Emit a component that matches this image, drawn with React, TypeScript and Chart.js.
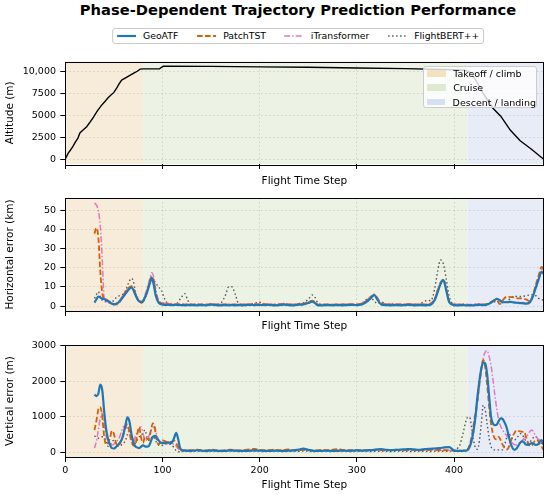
import React, { useEffect, useRef } from "react";
import { Chart, registerables } from "chart.js";

Chart.register(...registerables);

const FONT = "'DejaVu Sans', 'Liberation Sans', sans-serif";

const TITLE = "Phase-Dependent Trajectory Prediction Performance";
const X_TITLE = "Flight Time Step";
const X_MIN = 0;
const X_MAX = 492;
const X_TICKS = [0, 100, 200, 300, 400];

const PHASE_LABELS = ["Takeoff / climb", "Cruise", "Descent / landing"];
const PHASE_START = [0, 80, 414];
const PHASE_END = [80, 414, 492];
const PHASE_BG = ["rgba(247,236,218,1)", "rgba(236,242,228,1)", "rgba(232,236,246,1)"];
const PHASE_SWATCH = ["rgb(243,225,192)", "rgb(221,234,209)", "rgb(215,223,242)"];

const SERIES_NAMES = ["GeoATF", "PatchTST", "iTransformer", "FlightBERT++"];
const SERIES_COLORS = ["#1f77b4", "#d95f02", "#e377c2", "#555555"];
const SERIES_WIDTHS = [2.2, 1.8, 1.5, 1.4];
const SERIES_DASH: number[][] = [[], [5.5, 2.5], [6, 2, 1.5, 2], [1.5, 2.5]];

// Altitude profile
const ALT_X = [0, 3, 5, 8, 10, 13, 15, 18, 22, 26, 29, 33, 37, 41, 44, 47, 50, 53, 55, 58, 62, 66, 70, 74, 77, 80, 90, 97, 99, 101, 150, 200, 250, 300, 350, 400, 410, 415, 420, 425, 430, 435, 440, 448, 458, 468, 479, 489, 492];
const ALT_M = [50, 700, 1000, 1500, 1900, 2400, 3000, 3300, 3700, 4300, 4800, 5500, 6100, 6600, 7000, 7300, 7600, 8100, 8500, 9000, 9250, 9500, 9750, 10000, 10250, 10270, 10270, 10280, 10450, 10580, 10560, 10500, 10450, 10380, 10300, 10180, 10120, 10000, 9400, 8500, 7500, 6600, 5800, 4900, 3300, 2100, 1200, 300, 30];
const ALT_RANGE = [-530, 11110];
const ALT_TICKS = [0, 2500, 5000, 7500, 10000];

// Horizontal error (km)
const H_X = [
  30, 32, 34, 36, 38, 40, 42, 44, 47, 50,
  53, 56, 59, 62, 65, 68, 70, 72, 75, 78,
  81, 84, 87, 89, 91, 93, 96, 99, 102, 105,
  110, 115, 120, 123, 126, 130, 135, 140, 145, 150,
  155, 160, 165, 168, 171, 175, 178, 182, 186, 190,
  195, 200, 205, 210, 215, 220, 225, 230, 235, 240,
  245, 250, 254, 257, 260, 265, 270, 275, 280, 285,
  290, 295, 300, 305, 310, 314, 318, 321, 325, 330,
  335, 340, 345, 350, 355, 360, 365, 370, 373, 376,
  380, 383, 386, 389, 392, 395, 400, 405, 410, 415,
  420, 425, 430, 435, 440, 444, 447, 450, 454, 458,
  462, 466, 470, 474, 478, 481, 484, 487, 490, 492,
];
const H_GEOATF = [
  1.8, 3.5, 5, 4.5, 3.8, 3.8, 3, 2.5, 1.5, 0.9,
  1.3, 2.5, 4.5, 6.5, 8.5, 9.8, 8.5, 6, 3, 2,
  3.5, 7, 12, 14.8, 11, 5.5, 1.8, 0.9, 0.6, 0.6,
  0.5, 0.6, 0.5, 0.4, 0.5, 0.5, 0.4, 0.5, 0.4, 0.7,
  0.5, 0.4, 0.5, 0.4, 0.5, 0.4, 0.5, 0.4, 0.5, 0.6,
  0.5, 0.6, 0.5, 0.6, 0.4, 0.5, 0.7, 0.5, 0.4, 0.7,
  0.9, 1.6, 2.3, 1.5, 0.4, 0.4, 0.5, 0.4, 0.5, 0.4,
  0.5, 0.6, 0.5, 0.8, 2.2, 4, 5.8, 3.5, 0.8, 0.5,
  0.4, 0.5, 0.4, 0.5, 0.6, 0.4, 0.5, 0.4, 0.5, 0.7,
  3, 7, 11.5, 13.6, 8, 2, 0.5, 0.4, 0.5, 0.3,
  0.4, 0.6, 0.5, 0.9, 2.5, 3.8, 3, 2, 2, 2.2,
  1.8, 1.7, 1.5, 1.2, 2, 5, 9.5, 14, 18, 17,
];
const H_PATCHTST = [
  38, 41, 36, 18, 7, 3.5, 3.5, 2.8, 2, 1,
  0.9, 2.2, 5, 7.5, 9.5, 10.5, 9, 6.5, 3.2, 1.5,
  3, 7.5, 13, 15.5, 13, 7, 2.5, 1.5, 1.2, 1,
  1, 0.8, 0.9, 0.8, 0.7, 0.8, 0.9, 0.7, 0.8, 1,
  0.8, 0.7, 0.9, 0.8, 0.7, 0.8, 0.7, 0.9, 0.8, 0.9,
  1, 0.8, 1, 0.8, 0.7, 0.9, 1, 0.8, 0.7, 1,
  1.2, 2, 2.8, 2, 0.8, 0.7, 0.8, 0.7, 0.9, 0.8,
  0.8, 1, 0.9, 1.2, 2.8, 4.6, 6, 4, 1.3, 0.9,
  0.8, 0.9, 0.8, 0.9, 1, 0.8, 0.9, 0.8, 0.9, 1.2,
  3.5, 8, 12, 14, 9, 2.5, 0.8, 0.7, 0.8, 0.6,
  0.7, 0.9, 0.8, 1.2, 2.5, 3, 1, 3, 4.9, 4.7,
  4.5, 4, 4, 3.5, 2.5, 5.5, 11, 16, 20.5, 19.5,
];
const H_ITRANSFORMER = [
  54, 53, 50, 42, 25, 4, 2, 1.8, 1.5, 1.2,
  1.5, 3, 5.5, 7.5, 9.5, 10, 9, 7, 3.5, 2,
  4.5, 9, 14.5, 17.5, 15, 9, 3, 1.8, 1.5, 1.5,
  1.3, 1.1, 1, 1.1, 1, 0.9, 1, 1.1, 0.9, 1,
  1.1, 0.9, 1, 1.1, 1, 0.9, 1, 1.1, 1, 1,
  1.1, 1, 1.1, 0.9, 1, 1.1, 1.2, 1, 1, 1.2,
  1.4, 2.2, 2.6, 1.8, 1, 0.9, 1, 0.9, 1, 1,
  1.1, 1, 1, 1.5, 3, 5, 6.2, 4.5, 1.5, 1.1,
  1.4, 1.2, 1, 1.1, 1.2, 1, 1.1, 1, 1.1, 1.5,
  4, 8.5, 12.5, 13.8, 9, 2.8, 1, 0.9, 1, 0.8,
  0.9, 1.1, 1, 1.3, 2.8, 4, 3.3, 2.5, 2.3, 2.2,
  2, 1.9, 1.8, 1.6, 2.2, 5, 10, 14.5, 19, 18.5,
];
const H_FLIGHTBERT = [
  4, 6, 7.5, 5, 3, 2.5, 2.5, 2.2, 2, 3,
  4.8, 5.5, 6, 8, 12, 14.5, 13, 8, 3, 2.5,
  3, 8, 13, 14.5, 13.5, 12, 10, 8, 4, 1.5,
  0.8, 1.5, 5, 6.5, 3, 0.8, 0.6, 0.8, 0.7, 0.9,
  0.8, 1.5, 6, 10, 10.2, 6, 1.5, 0.8, 0.7, 1,
  1.5, 2, 1.2, 0.8, 0.6, 0.8, 1.3, 0.8, 0.8, 1.2,
  1.8, 3.5, 5.8, 4.5, 1.5, 0.8, 0.7, 0.8, 0.6, 0.8,
  0.7, 0.6, 0.8, 1.5, 3.5, 4.5, 2.5, 1.4, 2.2, 1,
  0.7, 0.8, 0.6, 0.7, 0.8, 0.7, 1.2, 2.6, 3, 2.8,
  9, 18, 24.2, 22, 14, 5, 1, 0.8, 0.9, 0.7,
  0.8, 0.9, 0.8, 1.2, 2, 2.5, 2, 1.8, 2.3, 4,
  5.2, 5, 5, 5.5, 5.8, 6, 5.5, 4, 3.5, 3,
];
const H_RANGE = [-2.6, 56.7];
const H_TICKS = [0, 10, 20, 30, 40, 50];

// Vertical error (m)
const V_X = [
  30, 32, 34, 36, 38, 40, 42, 44, 46, 48,
  50, 52, 54, 56, 58, 60, 62, 64, 66, 68,
  70, 72, 74, 76, 78, 80, 82, 84, 86, 88,
  90, 92, 94, 96, 98, 100, 103, 106, 109, 112,
  114, 116, 118, 120, 125, 130, 135, 140, 145, 150,
  155, 160, 165, 170, 175, 180, 185, 190, 195, 200,
  205, 210, 215, 220, 225, 230, 235, 240, 245, 250,
  255, 260, 265, 270, 275, 280, 285, 290, 295, 300,
  305, 310, 315, 320, 325, 330, 335, 340, 345, 350,
  355, 360, 365, 370, 375, 380, 385, 390, 395, 400,
  402, 404, 406, 408, 410, 412, 414, 416, 418, 420,
  422, 424, 426, 428, 430, 432, 434, 436, 438, 440,
  442, 444, 446, 448, 450, 452, 454, 456, 458, 460,
  462, 464, 466, 468, 470, 472, 474, 476, 478, 480,
  482, 484, 486, 488, 490, 492,
];
const V_GEOATF = [
  1620, 1580, 1650, 1900, 1750, 1150, 650, 360, 200, 110,
  100, 140, 190, 260, 350, 520, 780, 980, 860, 520,
  280, 160, 130, 110, 150, 190, 160, 150, 170, 300,
  430, 460, 390, 330, 270, 250, 260, 270, 250, 400,
  540, 380, 120, 60, 40, 35, 50, 40, 30, 45,
  40, 30, 35, 45, 40, 35, 30, 40, 45, 40,
  35, 30, 40, 35, 30, 40, 45, 70, 95, 60,
  35, 30, 35, 40, 30, 35, 40, 35, 40, 45,
  40, 50, 55, 70, 80, 65, 55, 60, 70, 75,
  85, 70, 65, 80, 90, 100, 110, 130, 140, 40,
  35, 35, 30, 35, 40, 40, 60, 150, 320, 600,
  1000, 1550, 2000, 2350, 2530, 2500, 2200, 1600, 1000, 800,
  760, 780, 880, 950, 930, 830, 700, 480, 260, 120,
  60, 90, 170, 260, 300, 270, 210, 200, 230, 250,
  230, 200, 210, 280, 340, 200,
];
const V_PATCHTST = [
  620, 880, 1200, 1270, 1000, 440, 210, 260, 400, 600,
  520, 270, 200, 230, 350, 520, 700, 780, 560, 330,
  180, 200, 500, 700, 400, 260, 430, 380, 350, 600,
  810, 680, 350, 210, 280, 330, 300, 280, 290, 320,
  250, 150, 60, 40, 60, 50, 70, 55, 45, 70,
  55, 40, 55, 65, 50, 45, 60, 75, 90, 60,
  50, 55, 65, 50, 60, 75, 55, 50, 65, 55,
  45, 50, 60, 50, 65, 85, 60, 55, 50, 60,
  55, 45, 60, 65, 55, 50, 60, 65, 55, 60,
  55, 65, 50, 60, 65, 55, 60, 50, 55, 45,
  40, 45, 40, 35, 40, 50, 80, 200, 420, 750,
  1100, 1450, 1900, 2350, 2600, 2400, 1900, 1300, 800, 520,
  380, 360, 430, 330, 200, 110, 70, 120, 280, 430,
  530, 610, 600, 580, 570, 580, 430, 270, 170, 180,
  270, 340, 330, 240, 160, 60,
];
const V_ITRANSFORMER = [
  110, 300, 620, 950, 1100, 800, 450, 300, 230, 200,
  220, 290, 340, 430, 600, 720, 690, 670, 520, 280,
  260, 430, 550, 650, 710, 520, 350, 340, 450, 600,
  680, 710, 500, 340, 280, 250, 230, 240, 230, 220,
  170, 100, 50, 35, 40, 35, 45, 40, 35, 45,
  40, 35, 40, 50, 40, 35, 40, 50, 55, 40,
  35, 40, 45, 35, 40, 50, 40, 45, 60, 45,
  35, 40, 45, 35, 40, 55, 40, 35, 40, 45,
  40, 35, 45, 50, 45, 40, 45, 50, 40, 45,
  40, 50, 40, 45, 50, 40, 45, 40, 45, 35,
  35, 40, 35, 30, 35, 40, 60, 130, 280, 550,
  950, 1370, 1850, 2300, 2650, 2820, 2860, 2700, 2450, 2050,
  1600, 1200, 900, 720, 620, 540, 470, 380, 300, 250,
  210, 200, 230, 280, 330, 380, 430, 490, 580, 620,
  560, 440, 380, 340, 330, 300,
];
const V_FLIGHTBERT = [
  460, 420, 390, 400, 430, 420, 280, 160, 200, 300,
  330, 240, 160, 170, 210, 250, 330, 500, 620, 480,
  300, 250, 330, 430, 450, 550, 620, 420, 330, 380,
  440, 380, 260, 200, 180, 190, 220, 230, 200, 120,
  40, 10, 10, 15, 20, 15, 25, 20, 15, 20,
  25, 15, 20, 25, 20, 15, 20, 25, 30, 20,
  15, 20, 25, 20, 15, 20, 25, 20, 30, 25,
  15, 20, 25, 20, 15, 20, 25, 20, 15, 20,
  25, 20, 15, 20, 25, 20, 15, 20, 25, 20,
  15, 20, 25, 20, 15, 20, 25, 20, 25, 30,
  60, 120, 200, 400, 620, 850, 980, 980, 700, 330,
  120, 80, 300, 800, 1320, 1200, 800, 400, 160, 80,
  60, 60, 60, 60, 70, 200, 400, 530, 460, 380,
  340, 380, 450, 520, 500, 400, 300, 250, 280, 350,
  420, 440, 380, 300, 250, 240,
];
const V_RANGE = [-140, 3020];
const V_TICKS = [0, 1000, 2000, 3000];

const GRID_COLOR = "rgba(0,0,0,0.16)";

const phasePlugin = {
  id: "phases",
  beforeDraw(chart: any) {
    const { ctx, chartArea, scales } = chart;
    const x = scales.x;
    ctx.save();
    for (let i = 0; i < PHASE_START.length; i++) {
      const x0 = Math.max(chartArea.left, x.getPixelForValue(PHASE_START[i]));
      const x1 = Math.min(chartArea.right, x.getPixelForValue(PHASE_END[i]));
      ctx.fillStyle = PHASE_BG[i];
      ctx.fillRect(x0, chartArea.top, x1 - x0, chartArea.bottom - chartArea.top);
    }
    ctx.restore();
  },
};

const framePlugin = {
  id: "frame",
  afterDatasetsDraw(chart: any) {
    const { ctx, chartArea } = chart;
    ctx.save();
    ctx.strokeStyle = "#000";
    ctx.lineWidth = 1;
    ctx.strokeRect(
      Math.round(chartArea.left) + 0.5,
      Math.round(chartArea.top) + 0.5,
      Math.round(chartArea.right - chartArea.left),
      Math.round(chartArea.bottom - chartArea.top)
    );
    ctx.restore();
  },
};

function fmtAlt(v: number) {
  if (Math.abs(v) >= 10000) return v.toLocaleString("en-US");
  return String(v);
}

function makeOptions(o: {
  yRange: number[];
  yTicks: number[];
  yTitle: string;
  yFmt?: (v: number) => string;
  padTop: number;
  xAxisH: number;
  xTitlePad: number;
  showXLabels: boolean;
}) {
  return {
    responsive: false,
    maintainAspectRatio: false,
    animation: false as const,
    events: [],
    layout: { padding: { top: o.padTop, right: 6.5, bottom: 0, left: 0 } },
    plugins: { legend: { display: false }, tooltip: { enabled: false }, title: { display: false } },
    elements: { point: { radius: 0 } },
    scales: {
      x: {
        type: "linear" as const,
        min: X_MIN,
        max: X_MAX,
        afterBuildTicks: (s: any) => {
          s.ticks = X_TICKS.map((v) => ({ value: v }));
        },
        ticks: {
          autoSkip: false,
          maxRotation: 0,
          padding: 3.2,
          color: "#000",
          font: { family: FONT, size: 9.5 },
          callback: (v: any) => (o.showXLabels ? String(v) : ""),
        },
        grid: { color: GRID_COLOR, lineWidth: 0.8, tickColor: "#000", tickLength: 5, tickWidth: 1 },
        border: { display: false, dash: [1.5, 2.5] },
        title: {
          display: true,
          text: X_TITLE,
          color: "#000",
          font: { family: FONT, size: 10.5 },
          padding: { top: 0, bottom: o.xTitlePad },
        },
        afterFit: (s: any) => {
          s.height = o.xAxisH;
        },
      },
      y: {
        type: "linear" as const,
        min: o.yRange[0],
        max: o.yRange[1],
        afterBuildTicks: (s: any) => {
          s.ticks = o.yTicks.map((v) => ({ value: v }));
        },
        ticks: {
          autoSkip: false,
          padding: 4.3,
          color: "#000",
          font: { family: FONT, size: 9.5 },
          callback: (v: any) => (o.yFmt ? o.yFmt(Number(v)) : String(v)),
        },
        grid: { color: GRID_COLOR, lineWidth: 0.8, tickColor: "#000", tickLength: 5, tickWidth: 1 },
        border: { display: false, dash: [1.5, 2.5] },
        title: {
          display: true,
          text: o.yTitle,
          color: "#000",
          font: { family: FONT, size: 10.5 },
          padding: { top: 3.7, bottom: 0 },
        },
        afterFit: (s: any) => {
          s.width = 65.3;
        },
      },
    },
  };
}

function errDatasets(xs: number[], series: number[][]) {
  return series.map((ys, k) => ({
    label: SERIES_NAMES[k],
    data: xs.map((x, i) => ({ x, y: ys[i] })),
    borderColor: SERIES_COLORS[k],
    backgroundColor: SERIES_COLORS[k],
    borderWidth: SERIES_WIDTHS[k],
    borderDash: SERIES_DASH[k],
    pointRadius: 0,
    fill: false,
    cubicInterpolationMode: "monotone" as const,
    borderCapStyle: "butt" as const,
  }));
}

function LegendHandle({ color, width, dash }: { color: string; width: number; dash: number[] }) {
  return (
    <svg width={19} height={10} style={{ display: "block" }}>
      <line x1={0} y1={5} x2={19} y2={5} stroke={color} strokeWidth={width} strokeDasharray={dash.length ? dash.join(",") : undefined} />
    </svg>
  );
}

export default function App() {
  const r1 = useRef<HTMLCanvasElement>(null);
  const r2 = useRef<HTMLCanvasElement>(null);
  const r3 = useRef<HTMLCanvasElement>(null);

  useEffect(() => {
    Chart.defaults.font.family = FONT;
    const c1 = new Chart(r1.current as HTMLCanvasElement, {
      type: "line",
      data: {
        datasets: [
          {
            label: "Altitude",
            data: ALT_X.map((x, i) => ({ x, y: ALT_M[i] })),
            borderColor: "#000",
            borderWidth: 1.4,
            pointRadius: 0,
            fill: false,
            tension: 0,
          },
        ],
      },
      options: makeOptions({
        yRange: ALT_RANGE,
        yTicks: ALT_TICKS,
        yTitle: "Altitude (m)",
        yFmt: fmtAlt,
        padTop: 11.5,
        xAxisH: 26,
        xTitlePad: 2.7,
        showXLabels: false,
      }) as any,
      plugins: [phasePlugin, framePlugin],
    });
    const c2 = new Chart(r2.current as HTMLCanvasElement, {
      type: "line",
      data: { datasets: errDatasets(H_X, [H_GEOATF, H_PATCHTST, H_ITRANSFORMER, H_FLIGHTBERT]) },
      options: makeOptions({
        yRange: H_RANGE,
        yTicks: H_TICKS,
        yTitle: "Horizontal error (km)",
        padTop: 13,
        xAxisH: 24,
        xTitlePad: 2.7,
        showXLabels: false,
      }) as any,
      plugins: [phasePlugin, framePlugin],
    });
    const c3 = new Chart(r3.current as HTMLCanvasElement, {
      type: "line",
      data: { datasets: errDatasets(V_X, [V_GEOATF, V_PATCHTST, V_ITRANSFORMER, V_FLIGHTBERT]) },
      options: makeOptions({
        yRange: V_RANGE,
        yTicks: V_TICKS,
        yTitle: "Vertical error (m)",
        padTop: 9.5,
        xAxisH: 38,
        xTitlePad: 3.2,
        showXLabels: true,
      }) as any,
      plugins: [phasePlugin, framePlugin],
    });
    return () => {
      c1.destroy();
      c2.destroy();
      c3.destroy();
    };
  }, []);

  const canvasStyle = (top: number, h: number): React.CSSProperties => ({
    position: "absolute",
    left: 0,
    top,
    width: 550,
    height: h,
  });

  return (
    <div
      style={{
        position: "absolute",
        left: 0,
        top: 0,
        width: 550,
        height: 495,
        background: "#fff",
        overflow: "hidden",
        fontFamily: FONT,
        color: "#000",
      }}
    >
      <div
        style={{
          position: "absolute",
          left: 0,
          top: 0,
          width: 596,
          height: 20,
          lineHeight: "20px",
          textAlign: "center",
          fontWeight: "bold",
          fontSize: 14.7,
          whiteSpace: "nowrap",
        }}
      >
        {TITLE}
      </div>

      <div
        style={{
          position: "absolute",
          left: 298,
          top: 27.5,
          height: 16,
          transform: "translateX(-50%)",
          boxSizing: "border-box",
          border: "1px solid #cccccc",
          borderRadius: 3,
          background: "rgba(255,255,255,0.8)",
          display: "flex",
          alignItems: "center",
          padding: "0 3.5px",
          fontSize: 9.3,
          whiteSpace: "nowrap",
        }}
      >
        {SERIES_NAMES.map((name, k) => (
          <div key={name} style={{ display: "flex", alignItems: "center", marginLeft: k === 0 ? 0 : 18.5 }}>
            <LegendHandle color={SERIES_COLORS[k]} width={SERIES_WIDTHS[k]} dash={SERIES_DASH[k]} />
            <span style={{ marginLeft: 7.4 }}>{name}</span>
          </div>
        ))}
      </div>

      <canvas ref={r1} width={550} height={140} style={canvasStyle(50, 140)} />
      <canvas ref={r2} width={550} height={150} style={canvasStyle(185, 150)} />
      <canvas ref={r3} width={550} height={160} style={canvasStyle(335, 160)} />

      <div
        style={{
          position: "absolute",
          left: 422.7,
          top: 65.7,
          width: 114.3,
          height: 42.3,
          boxSizing: "border-box",
          border: "1px solid #cccccc",
          borderRadius: 3,
          background: "rgba(255,255,255,0.8)",
          fontSize: 9.5,
        }}
      >
        {PHASE_LABELS.map((lab, i) => (
          <div
            key={lab}
            style={{
              position: "absolute",
              left: 0,
              top: 6.8 + i * 14.3 - 6,
              height: 12,
              width: "100%",
              display: "flex",
              alignItems: "center",
              whiteSpace: "nowrap",
            }}
          >
            <div style={{ marginLeft: 3, width: 19, height: 6.7, background: PHASE_SWATCH[i] }} />
            <span style={{ marginLeft: 7.5 }}>{lab}</span>
          </div>
        ))}
      </div>
    </div>
  );
}
